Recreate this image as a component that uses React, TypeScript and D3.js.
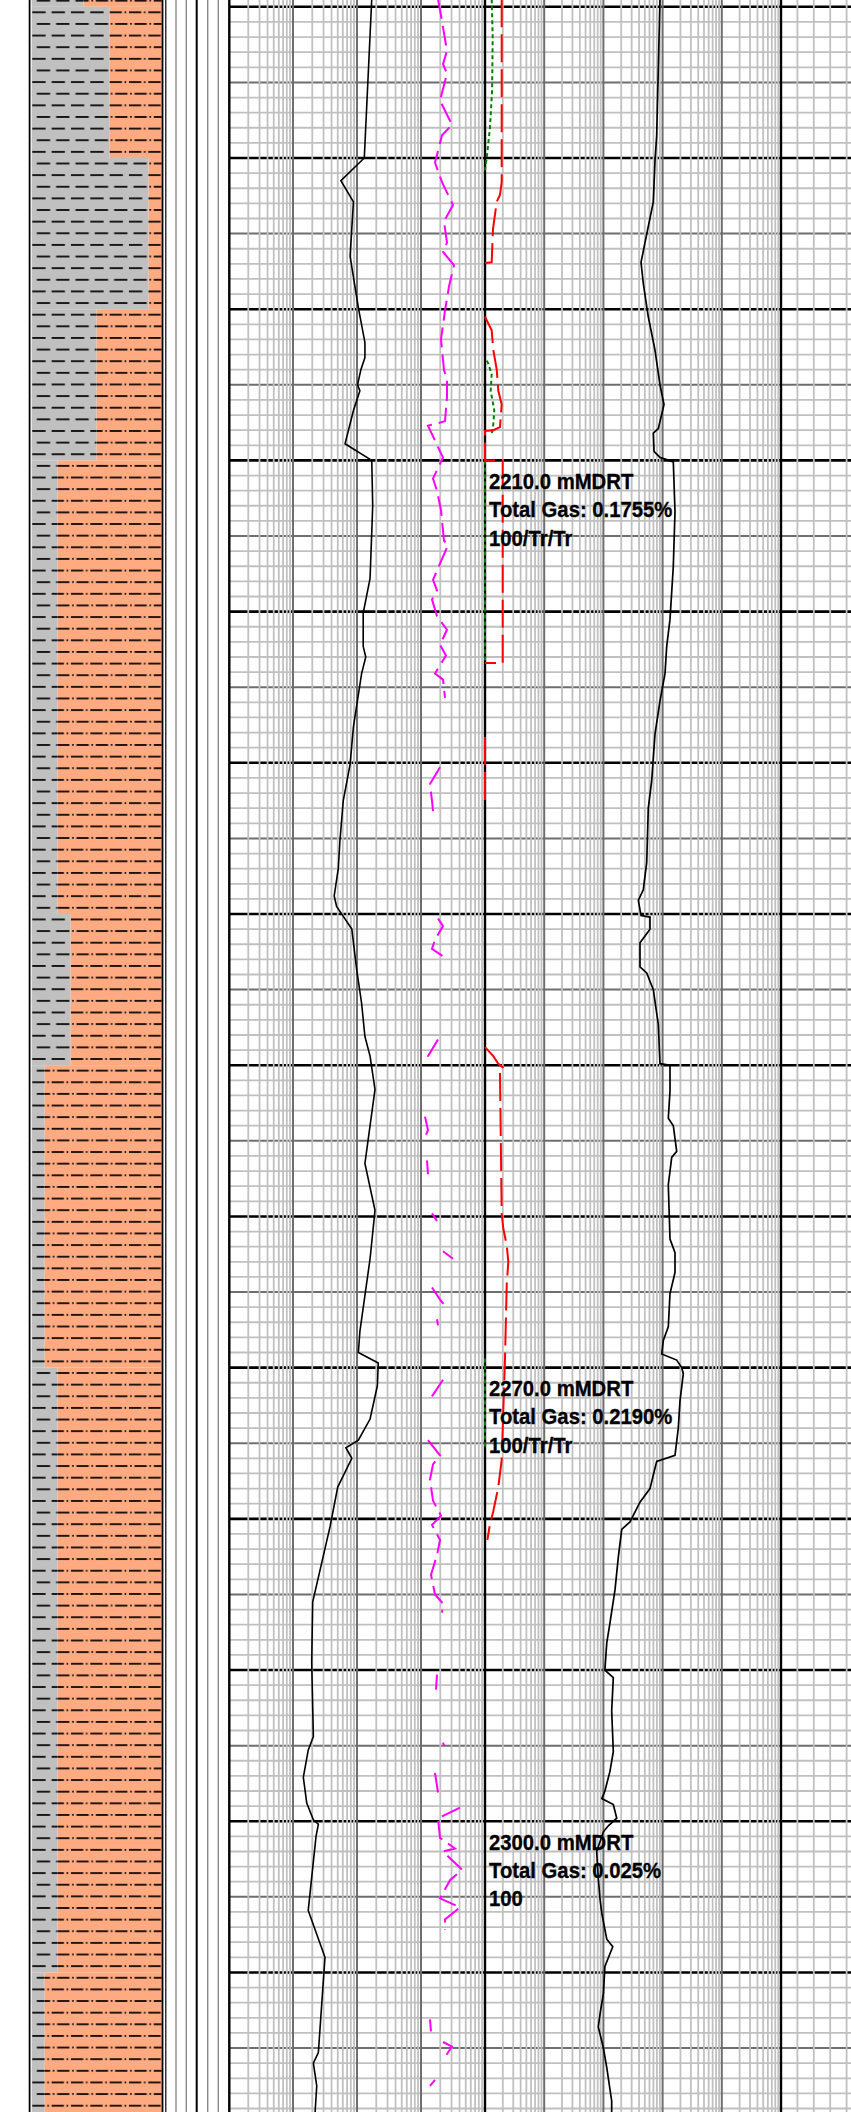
import * as d3 from "d3";
import { useEffect, useRef } from "react";

type Pt = [number, number] | null; // [depth mMDRT, value], null = gap in the log

// depth window of the strip
const topDepth = 2179.55;
const bottomDepth = 2319.23;

// lithology column: interval tops and shale share (%), the rest is siltstone
const lithTops = [2179.5, 2180, 2190, 2200, 2210, 2240, 2250, 2270, 2310];
const lithShale = [40, 60, 90, 50, 20, 30, 10, 20, 10];

// track 1 (log, 4 decades): black curve
const track1Curve: Pt[] = [
  [2179.5, 170], [2190.0, 130], [2191.5, 56], [2192.9, 88], [2196.5, 78], [2198.5, 93],
  [2200.0, 106], [2202.2, 133], [2203.2, 133], [2204.0, 115], [2205.0, 102], [2205.4, 111],
  [2206.7, 88], [2208.9, 65], [2210.0, 170], [2213.0, 176], [2217.8, 160], [2220.1, 125],
  [2222.3, 125], [2223.0, 137], [2224.1, 118], [2227.6, 88], [2230.1, 78], [2232.5, 61],
  [2235.2, 54], [2237.0, 51], [2238.8, 44], [2239.5, 48], [2241.0, 83], [2243.7, 99],
  [2245.9, 118], [2248.1, 133], [2249.4, 160], [2251.6, 191], [2256.5, 133], [2259.6, 191],
  [2262.8, 160], [2267.6, 111], [2269.0, 105], [2269.7, 215], [2271.2, 208], [2273.4, 160],
  [2274.8, 105], [2275.3, 67], [2276.0, 83], [2277.9, 50], [2280.5, 38], [2285.5, 20.3],
  [2289.5, 19.6], [2294.4, 20.8], [2295.3, 17.3], [2297.1, 14.5], [2298.8, 16.4], [2299.9, 20.8],
  [2300.2, 24.9], [2301.0, 22.9], [2305.9, 17.3], [2309.0, 31.6], [2315.3, 24.9], [2316.0, 20.8],
  [2317.5, 23.5], [2319.3, 22.1],
];

// track 1: magenta dashed curve
const magentaCurve: Pt[] = [
  [2179.5, 1844], [2180.2, 1982], [2182.9, 2548], [2183.8, 2207], [2184.4, 2548], [2186.2, 1982],
  [2187.8, 3050], [2188.5, 2130], [2190.3, 1655], [2191.6, 2130], [2193.1, 3162], [2194.2, 2287],
  [2195.6, 2548], [2196.2, 2207], [2197.1, 3278], [2198.5, 2738], [2200.1, 2371], [2202.0, 2054],
  [2204.0, 2287], [2204.7, 2548], [2205.8, 2548], [2207.4, 2371], [2207.6, 1655], [2207.7, 1286],
  [2209.4, 1982], [2209.8, 2207], [2211.2, 1540], [2212.0, 1778], [2213.3, 2054], [2215.3, 2287],
  [2215.6, 2642], [2217.9, 1540], [2218.6, 1778], [2219.2, 1486], [2220.3, 1778], [2221.2, 2548],
  [2222.2, 1982], [2222.9, 2458], [2224.1, 1655], [2224.5, 2207], [2225.7, 2371], null,
  [2230.3, 1982], [2231.4, 1382], [2232.5, 1486], [2233.2, 1540], null,
  [2240.3, 1844], [2240.8, 2207], [2241.7, 1655], [2242.3, 1486], [2242.8, 2207], null,
  [2248.3, 1844], [2249.4, 1286], [2249.7, 1241], null,
  [2253.4, 1155], [2254.3, 1286], [2254.6, 1197], null,
  [2256.3, 1241], [2257.2, 1286], null,
  [2259.8, 1486], [2260.3, 1778], null,
  [2262.3, 2207], [2262.8, 3162], null,
  [2264.7, 1486], [2265.5, 1982], [2265.9, 2371], null,
  [2266.8, 1778], [2267.2, 1844], null,
  [2270.8, 2207], [2272.1, 1382], null,
  [2274.8, 1286], [2275.8, 1982], [2276.4, 1540], [2277.4, 1382], [2278.8, 1540], [2279.8, 2054],
  [2280.4, 1486], [2281.4, 1982], [2282.4, 1778], [2283.7, 1432], [2285.0, 1655], [2285.6, 2207],
  [2286.2, 2130], null,
  [2290.3, 1778], [2291.3, 1715], null,
  [2294.8, 2207], [2295.0, 2287], null,
  [2296.8, 1655], [2298.1, 1844], null,
  [2299.1, 4067], [2299.8, 1844], [2301.1, 1982], [2301.8, 3399], [2302.0, 2207], [2303.2, 4373],
  [2303.9, 2839], [2305.1, 1982], [2305.7, 4067], [2306.5, 2371], [2307.2, 2371], null,
  [2313.1, 1382], [2313.9, 1432], null,
  [2314.6, 2207], [2314.9, 3050], [2315.8, 2207], null,
  [2317.1, 1655], [2317.5, 1382],
];

// track 2 (log, 5 decades): black curve
const track2Curve: Pt[] = [
  [2179.5, 903], [2188.5, 795], [2190.2, 744], [2192.9, 697], [2195.6, 504], [2196.9, 432],
  [2198.3, 472], [2200.5, 573], [2202.7, 744], [2205.0, 903], [2206.3, 1056], [2207.9, 846],
  [2208.2, 697], [2209.4, 716], [2209.8, 903], [2210.1, 1517], [2213.4, 1620], [2217.0, 1517],
  [2220.5, 1334], [2222.3, 1173], [2224.1, 1098], [2225.9, 903], [2228.1, 744], [2231.2, 654],
  [2233.0, 573], [2236.6, 539], [2238.4, 472], [2239.1, 389], [2240.1, 432], [2240.2, 612],
  [2241.0, 612], [2241.9, 415], [2243.5, 415], [2243.9, 539], [2245.0, 697], [2247.3, 846],
  [2249.9, 903], [2250.0, 1334], [2251.7, 1334], [2253.5, 1248], [2254.0, 1517], [2255.7, 1730],
  [2256.1, 1425], [2257.9, 1248], [2261.5, 1334], [2262.4, 1620], [2263.7, 1620], [2265.1, 1334],
  [2267.3, 1248], [2268.2, 1028], [2269.1, 966], [2269.5, 1730], [2270.0, 2102], [2270.4, 2239],
  [2272.2, 1967], [2274.0, 1842], [2275.8, 1620], [2276.2, 795], [2278.0, 612], [2278.9, 415],
  [2280.2, 281], [2280.7, 204], [2282.5, 179], [2284.7, 157], [2286.9, 129], [2288.2, 114],
  [2290.0, 106], [2290.5, 147], [2292.7, 138], [2295.4, 147], [2296.7, 129], [2298.0, 106],
  [2298.5, 94], [2298.9, 147], [2299.8, 168], [2300.3, 121], [2300.7, 100], [2302.0, 77],
  [2303.8, 82], [2305.2, 88], [2306.1, 94], [2307.8, 114], [2308.3, 144], [2309.6, 106],
  [2311.4, 100], [2312.7, 88], [2313.6, 82], [2315.0, 100], [2316.3, 114], [2318.5, 138],
  [2319.3, 138],
];

// gas curves, linear 0-5 across track 2
const redGas: Pt[] = [
  [2179.5, 0.282], [2191.6, 0.282], [2192.45, 0.253], [2192.9, 0.198], [2194.7, 0.135],
  [2196.9, 0.113], [2196.95, 0], null,
  [2200.5, 0], [2201.4, 0.113], [2202.7, 0.14], [2204.0, 0.198], [2205.4, 0.225], [2206.3, 0.282],
  [2207.8, 0.253], [2208.0, 0.14], [2208.05, 0], [2210.0, 0], [2210.0, 0.299], [2223.4, 0.299],
  [2223.4, 0], null,
  [2228.3, 0], [2232.5, 0], null,
  [2248.8, 0], [2249.4, 0.14], [2249.9, 0.225], [2250.2, 0.321], [2250.5, 0.253], [2259.8, 0.282],
  [2260.8, 0.309], [2261.9, 0.367], [2263.0, 0.394], [2264.5, 0.367], [2269.4, 0.338],
  [2276.1, 0.282], [2277.9, 0.225], [2279.5, 0.14], [2280.35, 0.084], [2281.4, 0.04],
];

const greenGas: Pt[] = [
  [2179.5, 0.113], [2182, 0.13], [2185.5, 0.12], [2188, 0.084], [2190, 0.029], [2190.8, 0], null,
  [2203.4, 0.029], [2203.6, 0.056], [2204.3, 0.113], [2205.4, 0.096], [2206.7, 0.157],
  [2207.6, 0.14], [2208.3, 0.113], null,
  [2210, 0], [2223.4, 0], null,
  [2269.4, 0], [2275.3, 0],
];

// gas show annotations
const noteDepths = [2210, 2270, 2300];
const noteDepthText = ["2210.0 mMDRT", "2270.0 mMDRT", "2300.0 mMDRT"];
const noteGasText = ["Total Gas: 0.1755%", "Total Gas: 0.2190%", "Total Gas: 0.025%"];
const noteRatioText = ["100/Tr/Tr", "100/Tr/Tr", "100"];

export default function App() {
  const svgRef = useRef<SVGSVGElement>(null);

  useEffect(() => {
    if (!svgRef.current) return;
    const W = 851;
    const H = 2112;
    const svg = d3.select(svgRef.current);
    svg.selectAll("*").remove();

    const y = d3.scaleLinear().domain([topDepth, bottomDepth]).range([0, H]);
    const x1 = d3.scaleLog().domain([1, 10000]).range([229, 485]);
    const x2 = d3.scaleLog().domain([1, 100000]).range([485, 781]);
    const xGas = d3.scaleLinear().domain([0, 5]).range([485, 781]);
    const x3 = d3.scaleLinear().domain([0, 10]).range([781, 945]);
    const xLith = d3.scaleLinear().domain([0, 100]).range([31.7, 161.7]);

    // lithology patterns
    const defs = svg.append("defs");
    const pw = 19.33;
    const ph = 23.26;
    const shale = defs
      .append("pattern")
      .attr("id", "shale")
      .attr("patternUnits", "userSpaceOnUse")
      .attr("x", 32.3)
      .attr("y", 6.5)
      .attr("width", pw)
      .attr("height", ph);
    shale.append("rect").attr("width", pw).attr("height", ph).attr("fill", "#c0c0c0");
    [
      [0, 13.3, 5.8],
      [4.5, 17.8, 17.43],
    ].forEach(([a, b, yy]) =>
      shale
        .append("line")
        .attr("x1", a)
        .attr("x2", b)
        .attr("y1", yy)
        .attr("y2", yy)
        .attr("stroke", "#000")
        .attr("stroke-width", 1.7)
    );

    const silt = defs
      .append("pattern")
      .attr("id", "silt")
      .attr("patternUnits", "userSpaceOnUse")
      .attr("x", 32.3)
      .attr("y", 6.5)
      .attr("width", pw)
      .attr("height", ph);
    silt.append("rect").attr("width", pw).attr("height", ph).attr("fill", "#ffaa80");
    [
      [0, 12.3, 5.8],
      [15, 16.6, 5.8],
      [5.5, 17.8, 17.43],
      [1.2, 2.8, 17.43],
    ].forEach(([a, b, yy]) =>
      silt
        .append("line")
        .attr("x1", a)
        .attr("x2", b)
        .attr("y1", yy)
        .attr("y2", yy)
        .attr("stroke", "#000")
        .attr("stroke-width", 1.7)
    );

    // lithology column
    const lith = svg.append("g");
    lithTops.forEach((top, i) => {
      const bot = i < lithTops.length - 1 ? lithTops[i + 1] : bottomDepth;
      const y0 = y(top);
      const h = y(bot) - y0;
      lith
        .append("rect")
        .attr("x", xLith(0))
        .attr("y", y0)
        .attr("width", xLith(lithShale[i]) - xLith(0))
        .attr("height", h)
        .attr("fill", "url(#shale)");
      lith
        .append("rect")
        .attr("x", xLith(lithShale[i]))
        .attr("y", y0)
        .attr("width", xLith(100) - xLith(lithShale[i]))
        .attr("height", h)
        .attr("fill", "url(#silt)");
    });

    const vline = (x: number, color: string, w: number) =>
      svg
        .append("line")
        .attr("x1", x)
        .attr("x2", x)
        .attr("y1", 0)
        .attr("y2", H)
        .attr("stroke", color)
        .attr("stroke-width", w);

    vline(29.6, "#000", 1.8);
    vline(162.5, "#000", 1.8);
    vline(165.8, "#000", 1.2);
    [176, 186.3, 207.7, 218.3].forEach((x) => vline(x, "#8a8a8a", 1.4));
    vline(196.7, "#000", 2);

    // horizontal depth grid
    const hgrid = svg.append("g");
    d3.range(2180, 2320).forEach((d) => {
      const major = d % 10 === 0;
      const mid = d % 5 === 0;
      hgrid
        .append("line")
        .attr("x1", 229)
        .attr("x2", W)
        .attr("y1", y(d))
        .attr("y2", y(d))
        .attr("stroke", major ? "#000" : mid ? "#6e6e6e" : "#c0c0c0")
        .attr("stroke-width", major ? 2.6 : mid ? 2 : 1.8);
    });

    // vertical log grids
    const isDecade = (v: number) => Math.abs(Math.log10(v) - Math.round(Math.log10(v))) < 1e-9;
    const vgrid = svg.append("g");
    const drawLogGrid = (sc: d3.ScaleLogarithmic<number, number>) => {
      const [lo, hi] = sc.domain();
      sc.ticks()
        .filter((v) => v > lo && v < hi)
        .forEach((v) => {
          const dec = isDecade(v);
          vgrid
            .append("line")
            .attr("x1", sc(v))
            .attr("x2", sc(v))
            .attr("y1", 0)
            .attr("y2", H)
            .attr("stroke", dec ? "#6e6e6e" : "#c0c0c0")
            .attr("stroke-width", dec ? 2 : 1.8);
        });
    };
    drawLogGrid(x1);
    drawLogGrid(x2);
    d3.range(1, 5).forEach((v) =>
      vgrid
        .append("line")
        .attr("x1", x3(v))
        .attr("x2", x3(v))
        .attr("y1", 0)
        .attr("y2", H)
        .attr("stroke", "#c0c0c0")
        .attr("stroke-width", 1.8)
    );

    // track borders
    vline(229.3, "#000", 2.4);
    vline(x2(1), "#000", 2.4);
    vline(x2(100000), "#000", 2.4);

    // curves
    const line = (sx: (v: number) => number) =>
      d3
        .line<Pt>()
        .defined((d) => d !== null)
        .x((d) => sx((d as [number, number])[1]))
        .y((d) => y((d as [number, number])[0]));

    svg
      .append("path")
      .attr("d", line((v) => x1(v))(track1Curve))
      .attr("fill", "none")
      .attr("stroke", "#000")
      .attr("stroke-width", 1.6);

    svg
      .append("path")
      .attr("d", line((v) => x1(v))(magentaCurve))
      .attr("fill", "none")
      .attr("stroke", "#ff00ff")
      .attr("stroke-width", 2)
      .attr("stroke-dasharray", "20,7");

    svg
      .append("path")
      .attr("d", line((v) => x2(v))(track2Curve))
      .attr("fill", "none")
      .attr("stroke", "#000")
      .attr("stroke-width", 1.7);

    svg
      .append("path")
      .attr("d", line((v) => xGas(v))(greenGas))
      .attr("fill", "none")
      .attr("stroke", "#008000")
      .attr("stroke-width", 2)
      .attr("stroke-dasharray", "4,3");

    svg
      .append("path")
      .attr("d", line((v) => xGas(v))(redGas))
      .attr("fill", "none")
      .attr("stroke", "#ff0000")
      .attr("stroke-width", 2)
      .attr("stroke-dasharray", "28,7");

    // annotations
    const notes = svg
      .append("g")
      .attr("font-family", "'Liberation Sans', Arial, sans-serif")
      .attr("font-size", 20.5)
      .attr("font-weight", "bold")
      .attr("fill", "#000")
      .attr("stroke", "#000")
      .attr("stroke-width", 0.3);
    noteDepths.forEach((d, i) => {
      [noteDepthText[i], noteGasText[i], noteRatioText[i]].forEach((t, j) => {
        notes
          .append("text")
          .attr("transform", `translate(489,${y(d) + 28.5 + j * 28.3}) scale(0.99,1.1)`)
          .text(t);
      });
    });
  }, []);

  return (
    <div style={{ position: "absolute", left: 0, top: 0 }}>
      <svg ref={svgRef} width={851} height={2112} style={{ display: "block", background: "#fff" }} />
    </div>
  );
}
